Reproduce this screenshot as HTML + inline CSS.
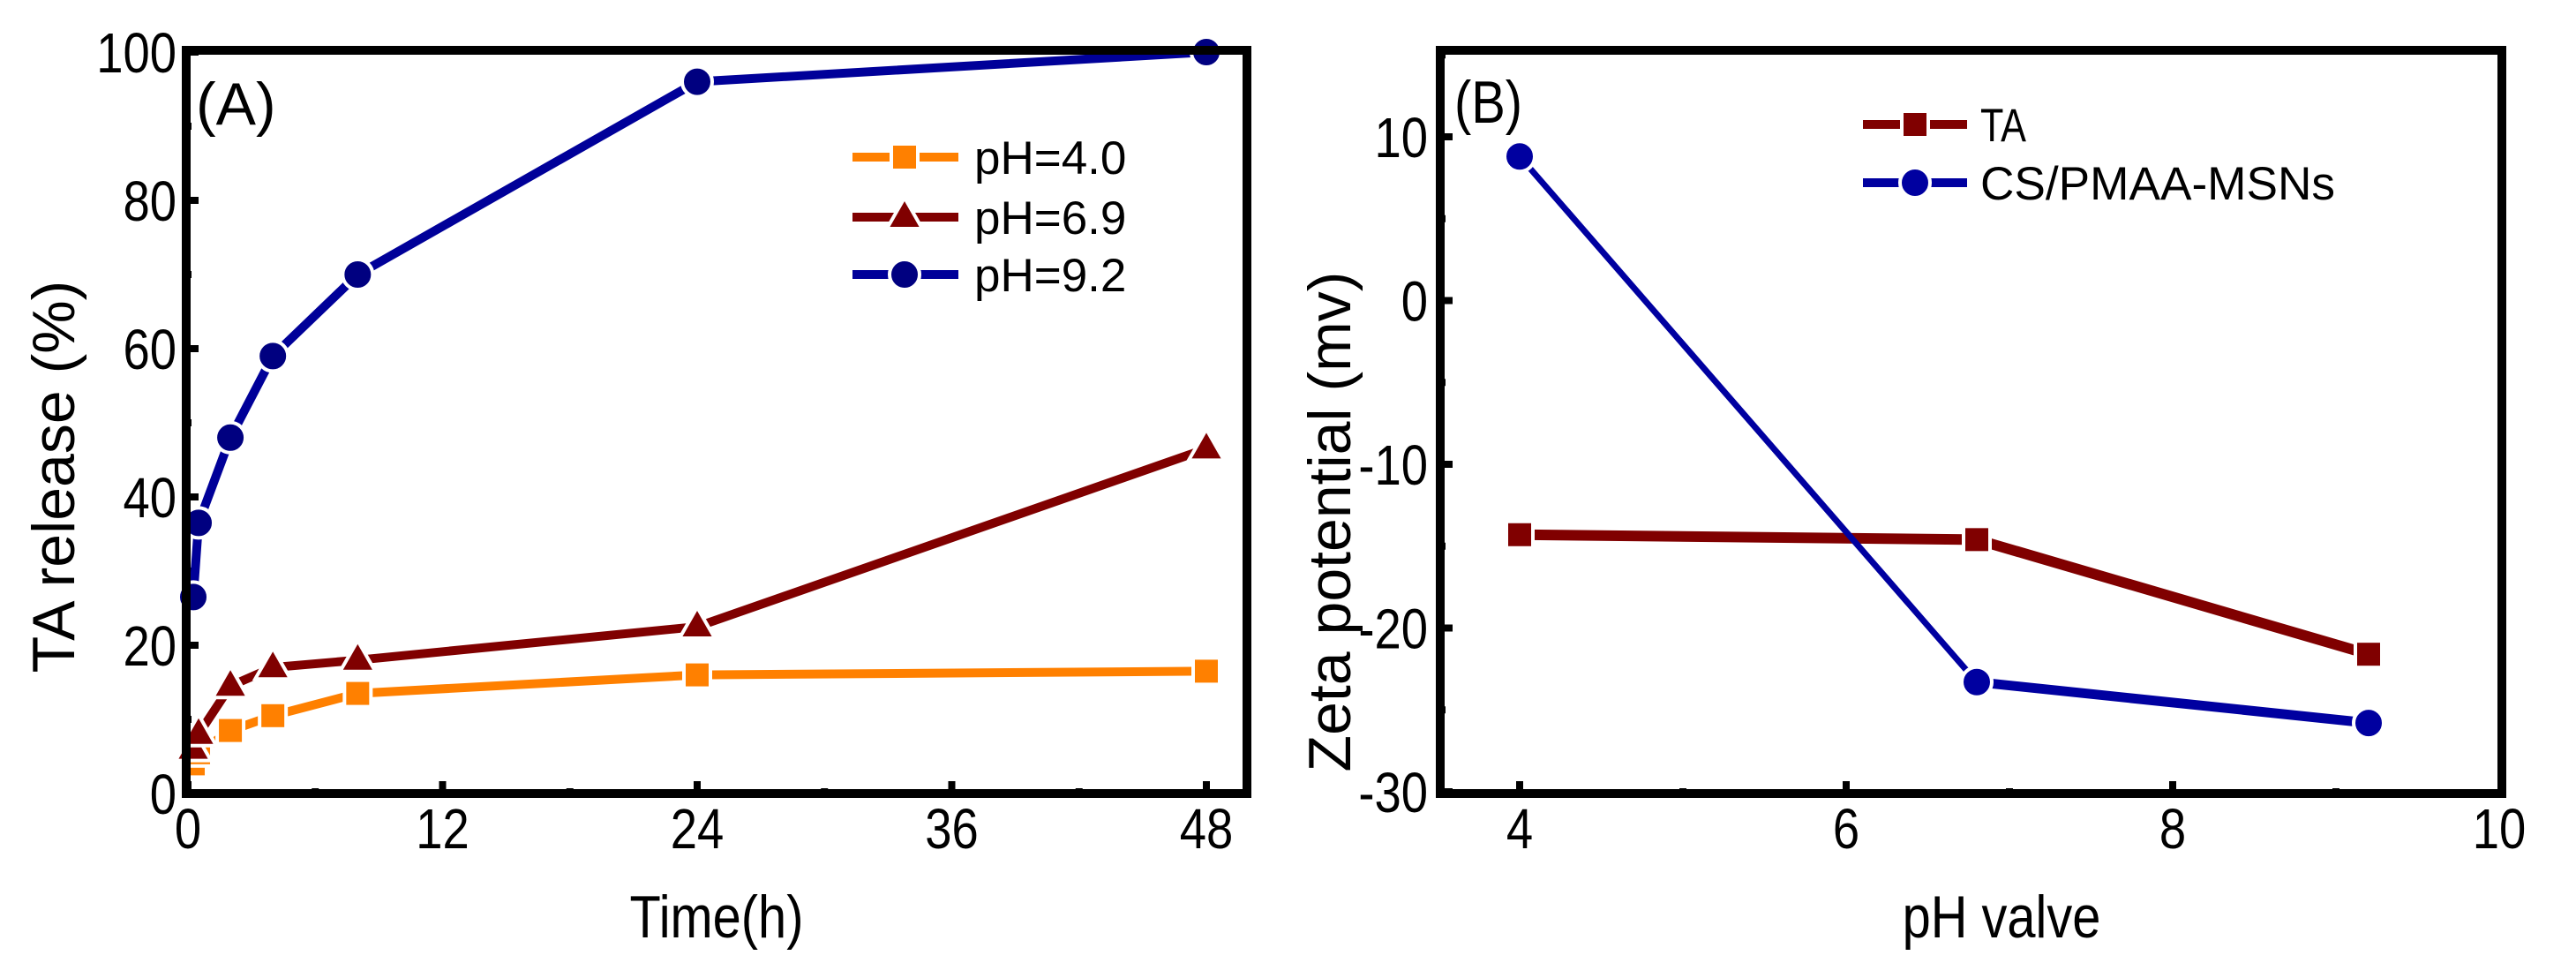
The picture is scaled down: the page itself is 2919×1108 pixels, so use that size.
<!DOCTYPE html>
<html><head><meta charset="utf-8"><style>
html,body{margin:0;padding:0;background:#fff;}
svg{display:block;font-family:"Liberation Sans",Arial,sans-serif;}
</style></head><body>
<svg id="chart" width="2919" height="1108" viewBox="0 0 2919 1108" xmlns="http://www.w3.org/2000/svg">
<g id="pa"></g>
<g id="pb"></g>
</svg>
<script>
// Panel A data
const timesA = [0.25, 0.5, 2, 4, 8, 24, 48];
const ph40 = [4, 5.5, 8.5, 10.5, 13.5, 16, 16.5];
const ph69 = [6, 8, 14.5, 17, 18, 22.5, 46.5];
const ph92 = [26.5, 36.5, 48, 59, 70, 96, 100];
const xTicksA = [0, 12, 24, 36, 48];
const yTicksA = [0, 20, 40, 60, 80, 100];
// Panel B data
const phB = [4, 6.8, 9.2];
const zetaTA = [-14.3, -14.6, -21.6];
const zetaCS = [8.8, -23.3, -25.8];
const xTicksB = [4, 6, 8, 10];
const yTicksB = ["-30", "-20", "-10", "0", "10"];

const NS = "http://www.w3.org/2000/svg";
function mk(parent, tag, attrs, text) {
  const e = document.createElementNS(NS, tag);
  for (const k in attrs) e.setAttribute(k, attrs[k]);
  if (text !== undefined) e.textContent = text;
  parent.appendChild(e);
  return e;
}
function marker(g, type, cx, cy, color) {
  let e;
  if (type === "sq") e = mk(g, "rect", {x: cx - 15, y: cy - 15, width: 30, height: 30, fill: color, stroke: "#fff", "stroke-width": 4});
  else if (type === "tri") e = mk(g, "polygon", {points: `${cx},${cy - 22} ${cx - 20},${cy + 13} ${cx + 20},${cy + 13}`, fill: color, stroke: "#fff", "stroke-width": 4});
  else e = mk(g, "ellipse", {cx: cx, cy: cy, rx: 17, ry: 17, fill: color, stroke: "#fff", "stroke-width": 4});
  return e;
}

// ---------- Panel A ----------
const pa = document.getElementById("pa");
const A = {l: 211, r: 1413, t: 57, b: 899};
const xA = v => 213 + (v / 48) * (1367 - 213);
const yA = v => 899 - (v / 100) * (899 - 59);
for (let v = 0; v <= 48; v += 6) {
  const big = v % 12 === 0;
  const t = mk(pa, "line", {x1: xA(v), x2: xA(v), y1: A.b, y2: A.b - (big ? 14 : 6), stroke: "#000", "stroke-width": 8});
  
  
}
for (let v = 0; v <= 100; v += 10) {
  const big = v % 20 === 0;
  const t = mk(pa, "line", {x1: A.l, x2: A.l + (big ? 14 : 6), y1: yA(v), y2: yA(v), stroke: "#000", "stroke-width": 8});
  
  
}
xTicksA.forEach(v => {
  const t = mk(pa, "text", {x: xA(v), y: 961, "font-size": 64, "text-anchor": "middle", transform: `translate(${xA(v)},0) scale(0.85,1) translate(${-xA(v)},0)`}, String(v));
  
  
});
yTicksA.forEach(v => {
  const t = mk(pa, "text", {x: 200, y: yA(v) + 23, "font-size": 64, "text-anchor": "end", transform: `translate(200,0) scale(0.85,1) translate(-200,0)`}, String(v));
  
  
});
const seriesA = [
  {vals: ph40, color: "#ff8000", m: "sq", name: "ph-4-series"},
  {vals: ph69, color: "#800000", m: "tri", name: "ph-6-9-series"},
  {vals: ph92, color: "#000099", m: "ci", name: "ph-9-2-series"}
];
seriesA.forEach(s => {
  const g = mk(pa, "g", {});
  
  
  const pts = timesA.map((t, i) => `${xA(t)},${yA(s.vals[i])}`).join(" ");
  mk(g, "polyline", {points: pts, fill: "none", stroke: s.color, "stroke-width": 10});
  timesA.forEach((t, i) => {
    const mm = marker(g, s.m, xA(t), yA(s.vals[i]), s.color === "#000099" ? "#000080" : s.color);
    
    
  });
});
const frameA = mk(pa, "rect", {x: A.l, y: A.t, width: A.r - A.l, height: A.b - A.t, fill: "none", stroke: "#000", "stroke-width": 10});


const labA = mk(pa, "text", {x: 222, y: 141, "font-size": 68}, "(A)");


const legA = [["pH=4.0", "#ff8000", "sq", 178], ["pH=6.9", "#800000", "tri", 246], ["pH=9.2", "#000099", "ci", 311]];
legA.forEach(L => {
  const g = mk(pa, "g", {});
  
  
  mk(g, "line", {x1: 966, x2: 1086, y1: L[3], y2: L[3], stroke: L[1], "stroke-width": 10});
  marker(g, L[2], 1025, L[3], L[1] === "#000099" ? "#000080" : L[1]);
  mk(g, "text", {x: 1104, y: L[3] + 19, "font-size": 53}, L[0]);
});
const xtA = mk(pa, "text", {x: 812, y: 1062, "font-size": 68, "text-anchor": "middle", transform: "translate(812,0) scale(0.85,1) translate(-812,0)"}, "Time(h)");


const ytA = mk(pa, "text", {x: 0, y: 0, "font-size": 68, "text-anchor": "middle", transform: "translate(84,540) rotate(-90)"}, "TA release (%)");



// ---------- Panel B ----------
const pb = document.getElementById("pb");
const B = {l: 1632, r: 2835, t: 57, b: 899};
const xB = v => 1722 + (v - 4) * 185;
const yB = v => 897 - (v + 30) * 18.55;
for (let v = 4; v <= 9; v += 1) {
  const big = v % 2 === 0;
  const t = mk(pb, "line", {x1: xB(v), x2: xB(v), y1: B.b, y2: B.b - (big ? 14 : 6), stroke: "#000", "stroke-width": 8});
  
  
}
for (let v = -30; v <= 15; v += 5) {
  const big = v % 10 === 0;
  const t = mk(pb, "line", {x1: B.l, x2: B.l + (big ? 14 : 6), y1: yB(v), y2: yB(v), stroke: "#000", "stroke-width": 8});
  
  
}
xTicksB.forEach(v => {
  const t = mk(pb, "text", {x: xB(v), y: 961, "font-size": 64, "text-anchor": "middle", transform: `translate(${xB(v)},0) scale(0.85,1) translate(${-xB(v)},0)`}, String(v));
  
  
});
yTicksB.forEach(s => {
  const v = parseFloat(s);
  const t = mk(pb, "text", {x: 1618, y: yB(v) + 23, "font-size": 64, "text-anchor": "end", transform: `translate(1618,0) scale(0.85,1) translate(-1618,0)`}, s);
  
  
});
const seriesB = [
  {vals: zetaTA, color: "#800000", m: "sq", w: [12, 12], name: "ta-series"},
  {vals: zetaCS, color: "#0000a0", m: "ci", w: [7, 11], name: "cs-pmaa-msns-series"}
];
seriesB.forEach(s => {
  const g = mk(pb, "g", {});
  
  
  for (let i = 0; i < phB.length - 1; i++) {
    mk(g, "line", {x1: xB(phB[i]), y1: yB(s.vals[i]), x2: xB(phB[i + 1]), y2: yB(s.vals[i + 1]), stroke: s.color, "stroke-width": s.w[i], "stroke-linecap": "round"});
  }
  phB.forEach((p, i) => {
    const mm = marker(g, s.m, xB(p), yB(s.vals[i]), s.color);
    
    
  });
});
const frameB = mk(pb, "rect", {x: B.l, y: B.t, width: B.r - B.l, height: B.b - B.t, fill: "none", stroke: "#000", "stroke-width": 10});


const labB = mk(pb, "text", {x: 1648, y: 139, "font-size": 68, transform: "translate(1648,0) scale(0.85,1) translate(-1648,0)"}, "(B)");


const legB = [["TA", "#800000", "sq", 141, 52], ["CS/PMAA-MSNs", "#0000a0", "ci", 207, 402]];
legB.forEach(L => {
  const g = mk(pb, "g", {});
  
  
  mk(g, "line", {x1: 2111, x2: 2229, y1: L[3], y2: L[3], stroke: L[1], "stroke-width": 10});
  marker(g, L[2], 2170, L[3], L[1]);
  mk(g, "text", {x: 2244, y: L[3] + 19, "font-size": 53, textLength: L[4], lengthAdjust: "spacingAndGlyphs"}, L[0]);
});
const xtB = mk(pb, "text", {x: 2268, y: 1062, "font-size": 68, "text-anchor": "middle", transform: "translate(2268,0) scale(0.85,1) translate(-2268,0)"}, "pH valve");


const ytB = mk(pb, "text", {x: 0, y: 0, "font-size": 68, "text-anchor": "middle", transform: "translate(1530,591) rotate(-90)"}, "Zeta potential (mv)");


</script>
</body></html>
